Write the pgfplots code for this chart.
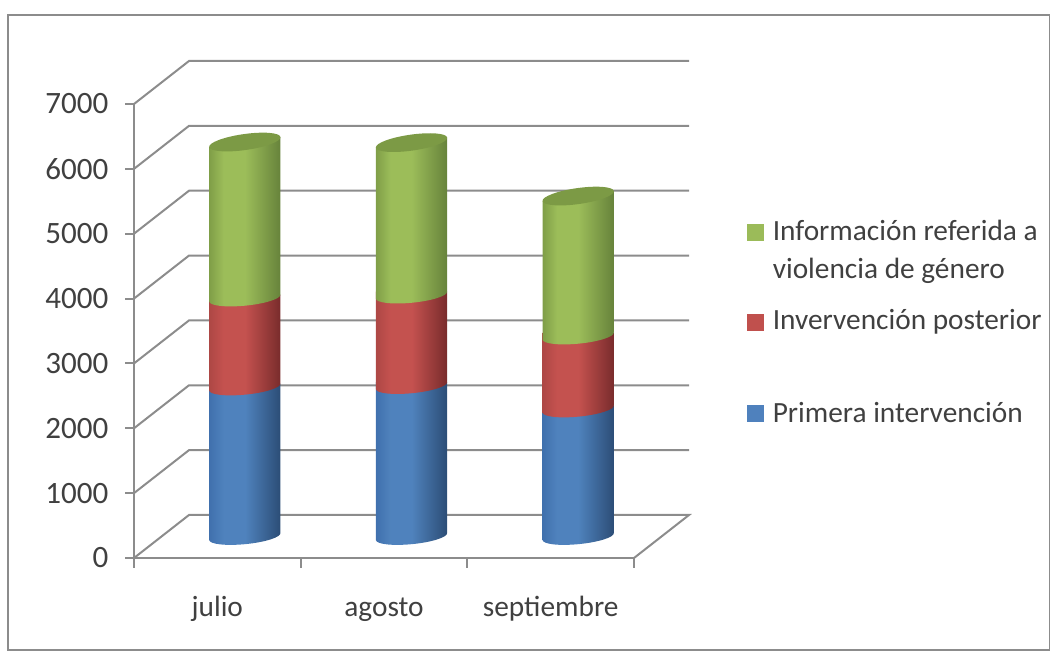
\documentclass[border=0pt]{standalone}
\usepackage{fontspec}
\setmainfont{Carlito}
\usepackage{pgfplots}
\usepackage{pgfplotstable}
\pgfplotsset{compat=1.18}

\definecolor{linea}{HTML}{8C8C8C}
\definecolor{texto}{HTML}{404040}
\definecolor{azul}{HTML}{4F81BD}
\definecolor{rojo}{HTML}{C0504D}
\definecolor{verde}{HTML}{9BBB59}
\definecolor{tapa}{HTML}{7C9A45}

% horizontal shadings for the cylinder sides (bbox maps onto 25bp..75bp)
\pgfdeclarehorizontalshading{cylazul}{100bp}{rgb(0bp)=(0.25,0.44,0.68);rgb(25bp)=(0.25,0.44,0.68);rgb(35bp)=(0.31,0.51,0.74);rgb(50bp)=(0.31,0.51,0.74);rgb(75bp)=(0.17,0.30,0.46);rgb(100bp)=(0.17,0.30,0.46)}
\pgfdeclarehorizontalshading{cylrojo}{100bp}{rgb(0bp)=(0.68,0.28,0.27);rgb(25bp)=(0.68,0.28,0.27);rgb(35bp)=(0.77,0.32,0.31);rgb(50bp)=(0.77,0.32,0.31);rgb(75bp)=(0.47,0.17,0.17);rgb(100bp)=(0.47,0.17,0.17)}
\pgfdeclarehorizontalshading{cylverde}{100bp}{rgb(0bp)=(0.50,0.62,0.28);rgb(25bp)=(0.50,0.62,0.28);rgb(35bp)=(0.61,0.74,0.35);rgb(50bp)=(0.61,0.74,0.35);rgb(75bp)=(0.40,0.51,0.23);rgb(100bp)=(0.40,0.51,0.23)}

% one cylinder piece, hung from the stacked top of the segment; \segh is the value
% #2,#3: y of the upper edge at the left and the right, in px
\newcommand\marcacil[3]{%
  \pgfdeclareplotmark{#1}{%
    \pgfmathsetmacro\hh{\segh*0.06486}%
    \pgftransformshift{\pgfqpoint{20.625pt}{16.125pt}}%
    \begin{scope}[x=0.75pt,y=0.75pt]
      \shade[shading=#1,draw=none]
        (-35.65,{-3.5-\hh})
        .. controls (-35.26,{-7.7-\hh}) and (-18.99,{-9.53-\hh}) .. (0.7,{-7.6-\hh})
        .. controls (20.39,{-5.67-\hh}) and (36.04,{-0.7-\hh}) .. (35.65,{3.5-\hh})
        -- (35.65,#3) -- (-35.65,#2) -- cycle;
    \end{scope}%
  }%
}
\marcacil{cylazul}{3.5}{3.5}
\marcacil{cylrojo}{3.5}{3.5}
\marcacil{cylverde}{-5.01}{5.01}
% the top piece also carries the lid (the shift of cylverde is still in force)
\pgfdeclareplotmark{cyltapa}{%
  \pgfuseplotmark{cylverde}%
  \begin{scope}[x=0.75pt,y=0.75pt]
    \fill[tapa,draw=none] (-35.65,-5.01)
      .. controls (-35.04,-9.38) and (-18.58,-10.69) .. (1.11,-7.92)
      .. controls (20.80,-5.15) and (36.26,0.64) .. (35.65,5.01)
      .. controls (35.04,9.38) and (18.58,10.69) .. (-1.11,7.92)
      .. controls (-20.80,5.15) and (-36.26,-0.64) .. (-35.65,-5.01) -- cycle;
  \end{scope}%
}

\pgfplotstableread{
x   blue red  green
0.5 2305 1372 2405
1.5 2327 1395 2351
2.5 1966 1125 2158
}\datos

% legend square: colour, top edge, half height of its box
\newcommand\cuadro[3]{\addlegendimage{legend image code/.code={%
  \path (0pt,-#3pt) (0pt,#3pt);
  \fill[#1] (0pt,{#2pt-12pt}) rectangle (12pt,#2pt);}}}

\begin{document}
\begin{tikzpicture}
\useasboundingbox (-100.5pt,-72.75pt) rectangle (693.75pt,418.5pt);
\draw[linea,line width=1.1pt] (-94.5pt,-69pt) rectangle (686.5pt,407.25pt);
\begin{axis}[
    scale only axis, width=375pt, height=340.5pt,
    at={(0pt,0pt)}, anchor=south west,
    xmin=0, xmax=3, ymin=0, ymax=7000,
    clip=false,
    axis lines=left,
    axis line style={-,linea,line width=1.5pt},
    tick style={linea,line width=1.5pt},
    tick align=outside,
    major tick length=6.5pt, minor tick length=7.5pt,
    every major x tick/.append style={draw=none},
    xtick={0.5,1.5,2.5},
    minor xtick={0,1,2,3},
    xticklabels={julio,agosto,septiembre},
    ytick={0,1000,2000,3000,4000,5000,6000,7000},
    /pgf/number format/assume math mode=true,
    /pgf/number format/1000 sep={},
    yticklabel style={xshift=-9.25pt,font=\fontsize{23.3}{26}\selectfont,text=texto},
    xticklabel style={yshift=-37.5pt,anchor=base,text height=0pt,font=\fontsize{22}{26}\selectfont,text=texto},
    legend style={at={(1.226,0.7454)},anchor=north west,draw=none,fill=none,
      inner sep=0pt,row sep=0pt,column sep=6.75pt,
      font=\fontsize{22}{28.9}\selectfont,text=texto,
      nodes={inner sep=0pt,text depth=,text height=}},
    legend cell align=left,
  ]

% paredes y rejilla en perspectiva
\addplot[linea,line width=1.5pt,forget plot] coordinates {(0,0) (0.33,663) (3.33,663) (3,0)};
\addplot[linea,line width=1.5pt,forget plot] coordinates {(0,1000) (0.33,1663) (3.33,1663)};
\addplot[linea,line width=1.5pt,forget plot] coordinates {(0,2000) (0.33,2663) (3.33,2663)};
\addplot[linea,line width=1.5pt,forget plot] coordinates {(0,3000) (0.33,3663) (3.33,3663)};
\addplot[linea,line width=1.5pt,forget plot] coordinates {(0,4000) (0.33,4663) (3.33,4663)};
\addplot[linea,line width=1.5pt,forget plot] coordinates {(0,5000) (0.33,5663) (3.33,5663)};
\addplot[linea,line width=1.5pt,forget plot] coordinates {(0,6000) (0.33,6663) (3.33,6663)};
\addplot[linea,line width=1.5pt,forget plot] coordinates {(0,7000) (0.33,7663) (3.33,7663)};

\addplot[stack plots=y,only marks,mark=cylazul,forget plot,
  visualization depends on={rawy\as\segh}] table[x=x,y=blue] {\datos};
\addplot[stack plots=y,only marks,mark=cylrojo,forget plot,
  visualization depends on={rawy\as\segh}] table[x=x,y=red] {\datos};
\addplot[stack plots=y,only marks,mark=cyltapa,forget plot,
  visualization depends on={rawy\as\segh}] table[x=x,y=green] {\datos};

\cuadro{verde}{30.35}{30.35}
\addlegendentry{\parbox[t]{210pt}{Información referida a\\violencia de género\rule[-23.25pt]{0pt}{23.25pt}}}
\cuadro{rojo}{29.5}{29.5}
\addlegendentry{\parbox[t]{210pt}{Invervención posterior\rule[-50.5pt]{0pt}{50.5pt}}}
\cuadro{azul}{5}{11}
\addlegendentry{\parbox[t]{210pt}{Primera intervención}}
\end{axis}
\end{tikzpicture}
\end{document}
